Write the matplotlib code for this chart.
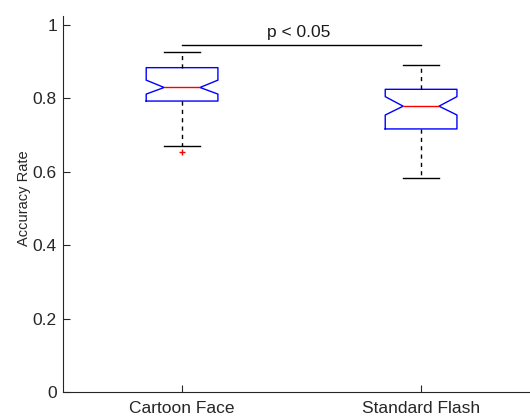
import matplotlib
matplotlib.use('Agg')
import matplotlib.pyplot as plt

plt.rcParams['font.family'] = ['Liberation Sans', 'DejaVu Sans']

# box statistics
groups = ['Cartoon Face', 'Standard Flash']
medians = [0.830, 0.779]
q1s = [0.793, 0.717]
q3s = [0.884, 0.825]
whis_lo = [0.671, 0.584]
whis_hi = [0.926, 0.892]
notch_lo = [0.812, 0.755]
notch_hi = [0.850, 0.805]
outliers = [[0.653], []]
sig_y = 0.945
sig_text = 'p < 0.05'

stats = []
for i in range(len(groups)):
    stats.append(dict(med=medians[i], q1=q1s[i], q3=q3s[i],
                      whislo=whis_lo[i], whishi=whis_hi[i],
                      cilo=notch_lo[i], cihi=notch_hi[i],
                      fliers=outliers[i], label=groups[i]))

fig = plt.figure(figsize=(5.30, 4.16), dpi=100)
ax = fig.add_axes([0.118, 0.0577, 0.902, 0.904])

ax.bxp(stats, positions=[1, 2], widths=0.3, shownotches=True,
       boxprops=dict(color='#0000ff', linewidth=1.0),
       medianprops=dict(color='#ff0000', linewidth=1.0),
       whiskerprops=dict(color='black', linestyle=(0, (3, 3)), linewidth=1.0),
       capprops=dict(color='black', linewidth=1.0),
       capwidths=0.15,
       flierprops=dict(marker='+', markeredgecolor='#ff0000', markersize=4, linestyle='none'))

# significance bar
ax.plot([1, 2], [sig_y, sig_y], color='black', linewidth=1.0)
ax.text(1.49, sig_y + 0.015, sig_text, ha='center', va='bottom', fontsize=12.5, color='#1a1a1a')

ax.set_xlim(0.5, 2.5)
ax.set_ylim(0, 1.025)
ax.set_yticks([0, 0.2, 0.4, 0.6, 0.8, 1])
ax.set_yticklabels(['0', '0.2', '0.4', '0.6', '0.8', '1'])
ax.set_xticks([1, 2])
ax.set_xticklabels(groups)
ax.set_ylabel('Accuracy Rate', fontsize=10.5, color='#262626')
ax.yaxis.set_label_coords(-0.066, 0.515)
ax.tick_params(direction='in', length=5, labelsize=12.5, color='#262626', labelcolor='#262626')
ax.tick_params(axis='x', pad=6.5)
ax.tick_params(axis='y', pad=4)
ax.spines['top'].set_visible(False)
ax.spines['right'].set_visible(False)
for s in ['left', 'bottom']:
    ax.spines[s].set_color('#262626')

fig.savefig('out.png', dpi=100)
